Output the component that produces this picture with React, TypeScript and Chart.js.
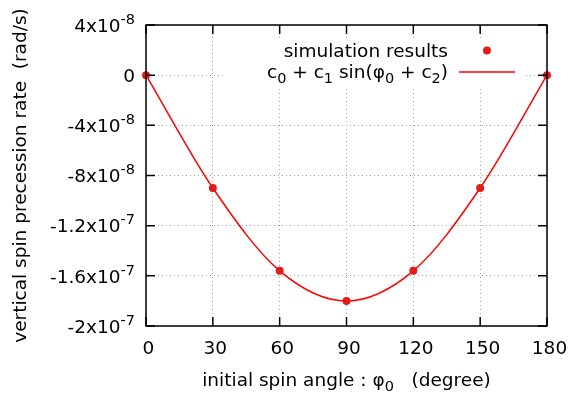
import React, { useEffect, useRef } from 'react';
import { Chart, registerables } from 'chart.js';

Chart.register(...registerables);

// ---- data ----
const angles = [0, 30, 60, 90, 120, 150, 180];
const simRates = [0, -9.0e-8, -1.56e-7, -1.8e-7, -1.56e-7, -9.0e-8, 0];

const xTickValues = [0, 30, 60, 90, 120, 150, 180];
const yTickValues = [4e-8, 0, -4e-8, -8e-8, -1.2e-7, -1.6e-7, -2e-7];
const yTickMantissa = ['4x10', '0', '-4x10', '-8x10', '-1.2x10', '-1.6x10', '-2x10'];
const yTickExponent = ['-8', '', '-8', '-8', '-7', '-7', '-7'];

type Part = { t: string; s?: 'sub' | 'sup' };
const simLabel: Part[] = [{ t: 'simulation results' }];
const fitLabel: Part[] = [
  { t: 'c' }, { t: '0', s: 'sub' }, { t: ' + c' }, { t: '1', s: 'sub' },
  { t: ' sin(φ' }, { t: '0', s: 'sub' }, { t: ' + c' }, { t: '2', s: 'sub' }, { t: ')' },
];
const xTitle: Part[] = [{ t: 'initial spin angle : φ' }, { t: '0', s: 'sub' }, { t: '   (degree)' }];
const yTitle = 'vertical spin precession rate  (rad/s)';

const FAMILY = "'DejaVu Sans', sans-serif";
const BASE = 18.5;
const SMALL = 14.5;
const DOT_COLOR = '#e41b1b';
const LINE_COLOR = '#ff0000';

function drawRich(ctx: CanvasRenderingContext2D, parts: Part[], x: number, baseline: number, align: 'left' | 'right' | 'center') {
  const widths = parts.map((p) => {
    ctx.font = `${p.s ? SMALL : BASE}px ${FAMILY}`;
    return ctx.measureText(p.t).width;
  });
  const total = widths.reduce((a, b) => a + b, 0);
  let cx = align === 'right' ? x - total : align === 'center' ? x - total / 2 : x;
  ctx.textAlign = 'left';
  ctx.textBaseline = 'alphabetic';
  parts.forEach((p, i) => {
    ctx.font = `${p.s ? SMALL : BASE}px ${FAMILY}`;
    const dy = p.s === 'sub' ? 5 : p.s === 'sup' ? -8 : 0;
    ctx.fillText(p.t, cx, baseline + dy);
    cx += widths[i];
  });
}

const decorPlugin = {
  id: 'gnuplotDecor',
  afterDatasetsDraw(chart: any) {
    const ctx: CanvasRenderingContext2D = chart.ctx;
    const { right, top } = chart.chartArea;
    // opaque key box
    ctx.save();
    ctx.fillStyle = '#ffffff';
    ctx.fillRect(224, top + 15, right - 22 - 224, 48);
    ctx.fillStyle = '#000';
    const textRight = 448;
    drawRich(ctx, simLabel, textRight, 57.3, 'right');
    drawRich(ctx, fitLabel, textRight, 78, 'right');
    // sample dot
    ctx.fillStyle = DOT_COLOR;
    ctx.beginPath();
    ctx.arc(487, 50.5, 4, 0, Math.PI * 2);
    ctx.fill();
    // sample line
    ctx.strokeStyle = LINE_COLOR;
    ctx.lineWidth = 1.5;
    ctx.beginPath();
    ctx.moveTo(459, 72);
    ctx.lineTo(515, 72);
    ctx.stroke();
    ctx.restore();
  },
  afterDraw(chart: any) {
    const ctx: CanvasRenderingContext2D = chart.ctx;
    const { left, right, top, bottom } = chart.chartArea;
    const xs = chart.scales.x;
    const ys = chart.scales.y;
    ctx.save();
    // ticks (inward, mirrored)
    ctx.strokeStyle = '#000';
    ctx.lineWidth = 1.5;
    ctx.beginPath();
    const TL = 9;
    yTickValues.forEach((v) => {
      const py = ys.getPixelForValue(v);
      ctx.moveTo(left, py); ctx.lineTo(left + TL, py);
      ctx.moveTo(right, py); ctx.lineTo(right - TL, py);
    });
    xTickValues.forEach((v) => {
      const px = xs.getPixelForValue(v);
      ctx.moveTo(px, bottom); ctx.lineTo(px, bottom - TL);
      ctx.moveTo(px, top); ctx.lineTo(px, top + TL);
    });
    ctx.stroke();
    // box
    ctx.strokeRect(left, top, right - left, bottom - top);
    // y tick labels
    ctx.fillStyle = '#000';
    yTickValues.forEach((v, i) => {
      const py = ys.getPixelForValue(v);
      const parts: Part[] = [{ t: yTickMantissa[i] }];
      if (yTickExponent[i]) parts.push({ t: yTickExponent[i], s: 'sup' });
      drawRich(ctx, parts, 135, py + 6.8, 'right');
    });
    // x title
    drawRich(ctx, xTitle, (left + right) / 2, 386, 'center');
    // y title
    ctx.translate(26, (top + bottom) / 2);
    ctx.rotate(-Math.PI / 2);
    ctx.font = `${BASE}px ${FAMILY}`;
    ctx.textAlign = 'center';
    ctx.textBaseline = 'alphabetic';
    ctx.fillText(yTitle, 0, 0);
    ctx.restore();
  },
};

export default function App() {
  const canvasRef = useRef<HTMLCanvasElement | null>(null);

  useEffect(() => {
    const canvas = canvasRef.current;
    if (!canvas) return;
    const points = angles.map((a, i) => ({ x: a, y: simRates[i] }));
    const chart = new Chart(canvas, {
      type: 'line',
      data: {
        datasets: [
          {
            label: 'simulation results',
            data: points,
            showLine: false,
            pointRadius: 4,
            pointBackgroundColor: DOT_COLOR,
            pointBorderColor: DOT_COLOR,
            pointBorderWidth: 0,
            clip: false,
          } as any,
          {
            label: 'c0 + c1 sin(φ0 + c2)',
            data: points,
            showLine: true,
            pointRadius: 0,
            borderColor: LINE_COLOR,
            borderWidth: 1.5,
            cubicInterpolationMode: 'monotone',
            fill: false,
            clip: false,
          } as any,
        ],
      },
      options: {
        animation: false,
        responsive: false,
        maintainAspectRatio: false,
        layout: { padding: { top: 25, right: 34, left: 0, bottom: 0 } },
        plugins: { legend: { display: false }, tooltip: { enabled: false }, title: { display: false } },
        scales: {
          x: {
            type: 'linear',
            min: 0,
            max: 180,
            afterBuildTicks: (s: any) => {
              s.ticks = xTickValues.map((v) => ({ value: v }));
            },
            afterFit: (s: any) => {
              s.height = 89;
            },
            ticks: {
              color: '#000',
              font: { family: FAMILY, size: BASE },
              padding: 12,
              labelOffset: 2.5,
              maxRotation: 0,
              autoSkip: false,
              callback: (v: any) => String(v),
            },
            grid: { color: '#a0a0a0', lineWidth: 1, drawTicks: false },
            border: { display: false, dash: [1, 3] },
          },
          y: {
            type: 'linear',
            min: -2e-7,
            max: 4e-8,
            afterBuildTicks: (s: any) => {
              s.ticks = yTickValues.map((v) => ({ value: v }));
            },
            afterFit: (s: any) => {
              s.width = 146;
            },
            ticks: { display: false },
            grid: { color: '#a0a0a0', lineWidth: 1, drawTicks: false },
            border: { display: false, dash: [1, 3] },
          },
        },
      },
      plugins: [decorPlugin],
    } as any);
    return () => chart.destroy();
  }, []);

  return (
    <div style={{ position: 'absolute', left: 0, top: 0, width: 581, height: 415, background: '#fff' }}>
      <canvas ref={canvasRef} width={581} height={415} style={{ display: 'block' }} />
    </div>
  );
}
